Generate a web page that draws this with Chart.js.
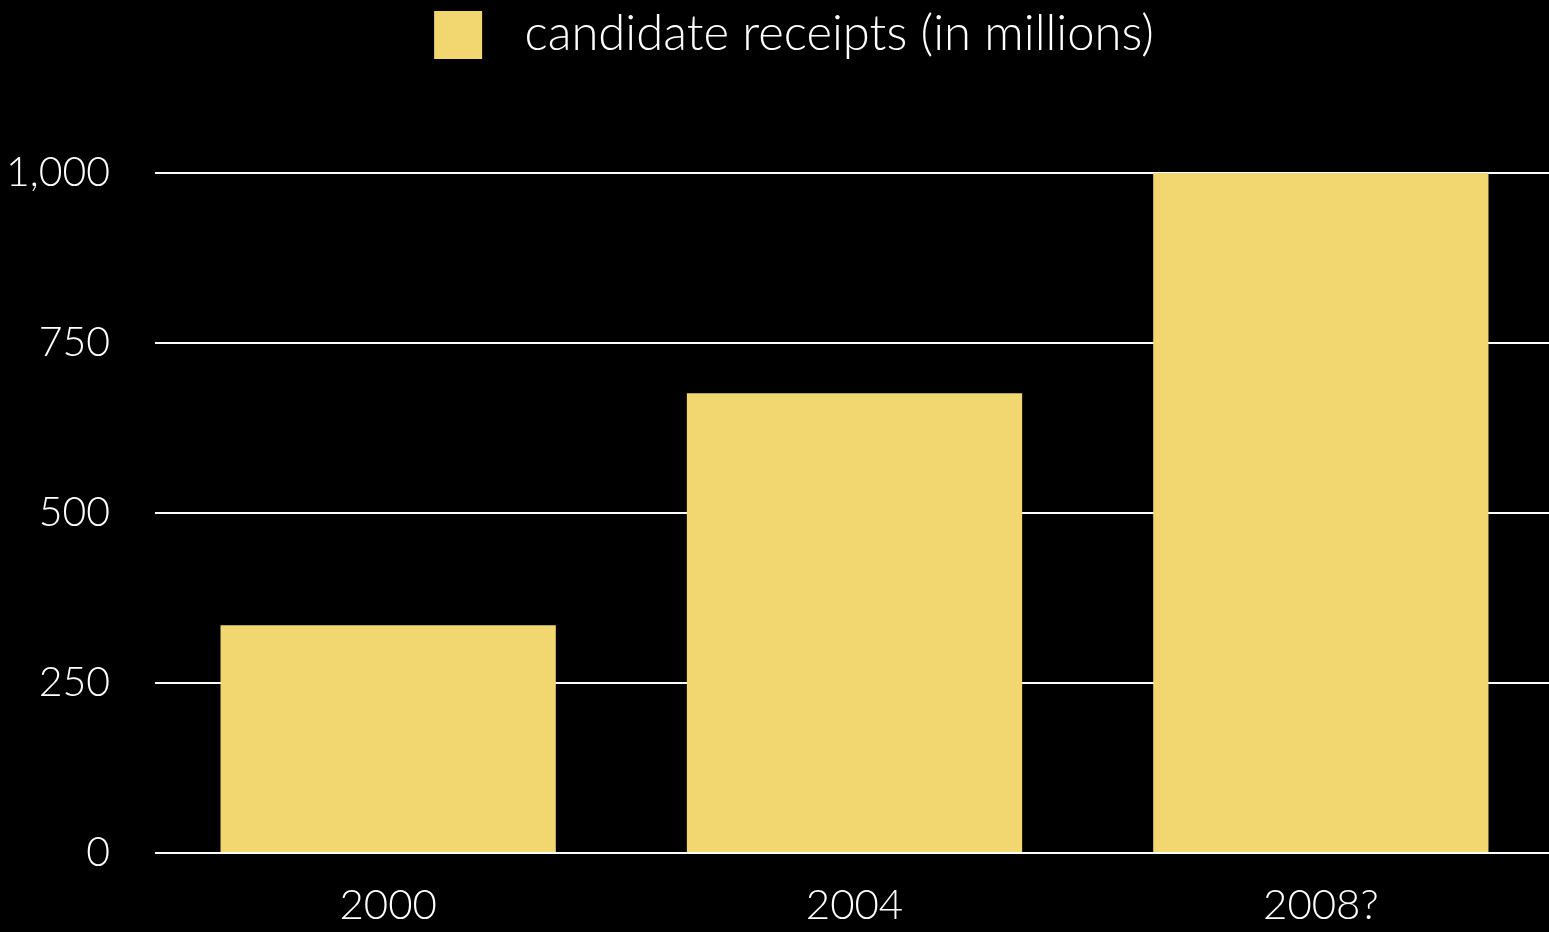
<!DOCTYPE html>
<html>
<head>
<meta charset="utf-8">
<script src="https://cdn.jsdelivr.net/npm/chart.js@4/dist/chart.umd.min.js"></script>
<style>
  html, body { margin: 0; padding: 0; background: #000; overflow: hidden; }
  canvas { display: block; }
</style>
</head>
<body>
<canvas id="receiptsChart" width="1554" height="932"></canvas>
<script>
const years = ['2000', '2004', '2008?'];
const receipts = [335, 676, 1000];
const seriesLabel = 'candidate receipts (in millions)';
const yTicks = [0, 250, 500, 750, 1000];

const barColor = '#f2d670';
const fontFamily = 'Lato, "Open Sans", sans-serif';

// legend swatch: yellow square with room on both sides, nudges the legend right
const swatch = document.createElement('canvas');
swatch.width = 100;
swatch.height = 48;
const sctx = swatch.getContext('2d');
sctx.fillStyle = barColor;
sctx.fillRect(34, 0, 48, 48);

// push the plot down below the legend
const legendSpacer = {
    id: 'legendSpacer',
    beforeInit(chart) {
        const fit = chart.legend.fit;
        chart.legend.fit = function () {
            fit.bind(chart.legend)();
            this.height += 104;
        };
    }
};

const ctx = document.getElementById('receiptsChart').getContext('2d');

new Chart(ctx, {
    type: 'bar',
    data: {
        labels: years,
        datasets: [{
            label: seriesLabel,
            data: receipts,
            backgroundColor: barColor,
            borderWidth: 0,
            categoryPercentage: 1,
            barPercentage: 0.719
        }]
    },
    options: {
        responsive: false,
        animation: false,
        layout: { padding: 0 },
        plugins: {
            tooltip: { enabled: false },
            legend: {
                labels: {
                    color: '#fff',
                    font: { family: fontFamily, size: 49, weight: 300 },
                    usePointStyle: true,
                    pointStyle: swatch,
                    pointStyleWidth: 100,
                    padding: 10,
                    generateLabels: chart => chart.data.datasets.map((ds, i) => ({
                        text: ds.label,
                        fillStyle: ds.backgroundColor,
                        strokeStyle: ds.backgroundColor,
                        lineWidth: 0,
                        pointStyle: swatch,
                        fontColor: '#fff',
                        datasetIndex: i
                    }))
                }
            }
        },
        scales: {
            x: {
                grid: { display: false, drawTicks: false },
                border: { display: false },
                ticks: {
                    color: '#fff',
                    padding: 27,
                    font: { family: fontFamily, size: 42, weight: 300 }
                },
                afterFit: scale => { scale.height = 79; }
            },
            y: {
                min: 0,
                max: 1000,
                afterBuildTicks: scale => {
                    scale.ticks = yTicks.map(v => ({ value: v }));
                },
                grid: { color: '#fff', lineWidth: 2, drawTicks: false },
                border: { display: false },
                ticks: {
                    color: '#fff',
                    padding: 45,
                    font: { family: fontFamily, size: 41, weight: 300 }
                },
                afterFit: scale => { scale.width = 155; }
            }
        }
    },
    plugins: [legendSpacer]
});
</script>
</body>
</html>
